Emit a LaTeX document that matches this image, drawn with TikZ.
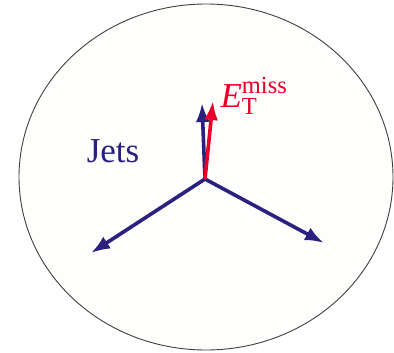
\documentclass[tikz,border=0pt]{standalone}
\usepackage{amsmath}
\usepackage{fontspec}
\setmainfont{Liberation Serif}
\usetikzlibrary{arrows.meta}
\definecolor{jetblue}{RGB}{42,32,128}
\definecolor{metred}{RGB}{232,0,40}
\definecolor{bgpaper}{RGB}{254,254,252}

\begin{document}
\begin{tikzpicture}[x=1pt,y=-1pt,>={Latex[length=19pt,width=14pt]}]
\useasboundingbox (0,0) rectangle (394,353);

% event display
\draw[fill=bgpaper,draw=black!75,line width=0.9pt] (206,177) ellipse (187 and 173);

\coordinate (o) at (205,179);
\coordinate (j1) at (202,103);
\coordinate (j2) at (91,253);
\coordinate (j3) at (324,243);
\coordinate (met) at (213,101);

% jets
\draw[->,jetblue,line width=3.6pt] (o) -- (j1);
\draw[->,jetblue,line width=3.6pt] (o) -- (j2);
\draw[->,jetblue,line width=3.6pt] (o) -- (j3);

% missing energy
\draw[->,metred,line width=3.6pt] (o) -- (met);

\node[jetblue,font=\fontsize{35}{35}\selectfont] (jets) at (113,151) {Jets};
\node[metred,font=\fontsize{35}{35}\selectfont,anchor=west] (metlabel) at (217,96) {$\textit{E}^{\text{miss}}_{\text{T}}$};

\end{tikzpicture}
\end{document}
